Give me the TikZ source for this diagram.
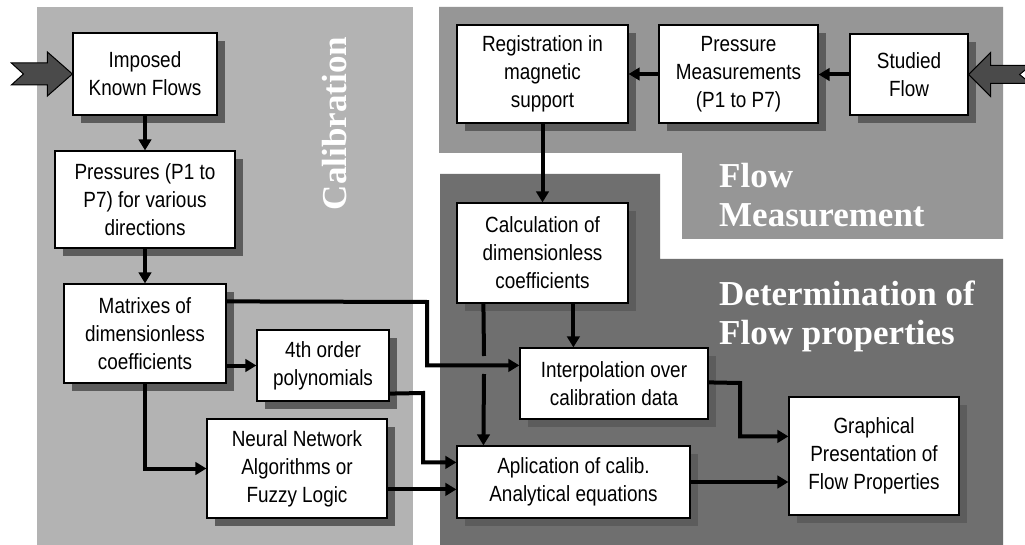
\documentclass[tikz,border=0pt]{standalone}
\usepackage{fontspec}
\setmainfont{Liberation Sans}[FakeStretch=0.86]
\newfontfamily\titlefont{Liberation Serif}
\usetikzlibrary{arrows.meta,calc,shadows}
\definecolor{pcal}{HTML}{B3B3B3}
\definecolor{pmid}{HTML}{969696}
\definecolor{pdet}{HTML}{6F6F6F}
\definecolor{shad}{HTML}{5C5C5C}
\definecolor{bigarrow}{HTML}{4A4A4A}
\begin{document}
\begin{tikzpicture}[x=1pt,y=-1pt,
  box/.style={draw=black, line width=1.2pt, fill=white, inner sep=0pt, align=center,
    font=\fontsize{22}{28}\selectfont,
    drop shadow={shadow xshift=8pt, shadow yshift=-8pt, fill=shad, opacity=1}},
  conn/.style={line width=4pt, -{Triangle[length=11pt,width=12.5pt]}},
  plain/.style={line width=4pt},
  title/.style={text=white, font=\titlefont\bfseries\fontsize{35}{39}\selectfont, inner sep=0pt, align=left},
  inarrow/.style={fill=bigarrow, draw=black, line width=1pt, line join=miter},
]
\useasboundingbox (0,0) rectangle (1025,545);
\fill[white] (0,0) rectangle (1025,545);
% panels
\fill[pcal] (37,7) rectangle (413,545);
\fill[pmid] (439,7) -- (1003,7) -- (1003,239) -- (682,239) -- (682,153) -- (439,153) -- cycle;
\fill[pdet] (440,174) -- (660,174) -- (660,259) -- (1003,259) -- (1003,545) -- (440,545) -- cycle;
% titles
\node[title, rotate=90] (tcal) at (334.5,123.5) {Calibration};
\node[title, anchor=north west] (tmeas) at (719,163) {Flow\\Measurement};
\node[title, anchor=north west] (tdet) at (719,281) {Determination of\\Flow properties};
% boxes
\node[box, minimum width=144pt, minimum height=82pt] (imposed) at (145,74) {Imposed\\Known Flows};
\node[box, minimum width=180pt, minimum height=97pt] (pressures) at (145,199.5) {Pressures (P1 to\\P7) for various\\directions};
\node[box, minimum width=162pt, minimum height=99pt] (matrixes) at (145,333.5) {Matrixes of\\dimensionless\\coefficients};
\node[box, minimum width=132pt, minimum height=71pt] (poly) at (323,365.5) {4th order\\polynomials};
\node[box, minimum width=180pt, minimum height=99pt] (neural) at (297,468.5) {Neural Network\\Algorithms or\\Fuzzy Logic};
\node[box, minimum width=171pt, minimum height=98pt] (registration) at (542.5,74) {Registration in\\magnetic\\support};
\node[box, minimum width=159pt, minimum height=98pt] (pmeas) at (738.5,74) {Pressure\\Measurements\\(P1 to P7)};
\node[box, minimum width=118pt, minimum height=81pt] (studied) at (909,74.5) {Studied\\Flow};
\node[box, minimum width=171pt, minimum height=100pt] (calc) at (542.5,253) {Calculation of\\dimensionless\\coefficients};
\node[box, minimum width=188pt, minimum height=71pt] (interp) at (614,383.5) {Interpolation over\\calibration data};
\node[box, minimum width=233pt, minimum height=72pt] (aplic) at (573.5,482) {Aplication of calib.\\Analytical equations};
\node[box, minimum width=170pt, minimum height=118pt] (graph) at (874,456) {Graphical\\Presentation of\\Flow Properties};
% input arrows
\draw[inarrow] (imposed.west) -- ++(-25,-22) -- ++(0,11) -- ++(-36,0) -- ++(12,11) -- ++(-12,11) -- ++(36,0) -- ++(0,11) -- cycle;
\draw[inarrow] (studied.east) -- ++(22,-22) -- ++(0,13) -- ++(40,0) -- ++(-11,9) -- ++(11,9) -- ++(-40,0) -- ++(0,13) -- cycle;
% connectors
\draw[conn] (imposed.south) -- (pressures.north);
\draw[conn] (pressures.south) -- (matrixes.north);
\draw[conn] ($(matrixes.north east)+(0,18)$) -- (427,302) |- ($(interp.north west)+(0,18)$);
\draw[conn] (matrixes.east |- poly.west) -- (poly.west);
\draw[conn] (matrixes.south) |- (neural.west);
\draw[conn] ($(poly.south east)+(0,-8)$) -- (423,393) |- ($(aplic.north west)+(0,17)$);
\draw[conn] ($(neural.north east)+(0,71)$) -- ($(aplic.north west)+(0,44)$);
\draw[conn] (studied.west) -- (pmeas.east |- studied.west);
\draw[conn] (pmeas.west) -- (registration.east);
\draw[conn] (registration.south) -- (calc.north);
\draw[conn] ($(calc.south west)+(117,0)$) -- ($(interp.north west)+(54,0)$);
\draw[plain] ($(calc.south west)+(27,0)$) -- (484,356);
\draw[conn] (484,374) -- ($(aplic.north west)+(27,0)$);
\draw[conn] ($(interp.north east)+(0,35)$) -- (740,383) |- ($(graph.north west)+(0,40)$);
\draw[conn] (aplic.east) -- (aplic.east -| graph.west);
\end{tikzpicture}
\end{document}
